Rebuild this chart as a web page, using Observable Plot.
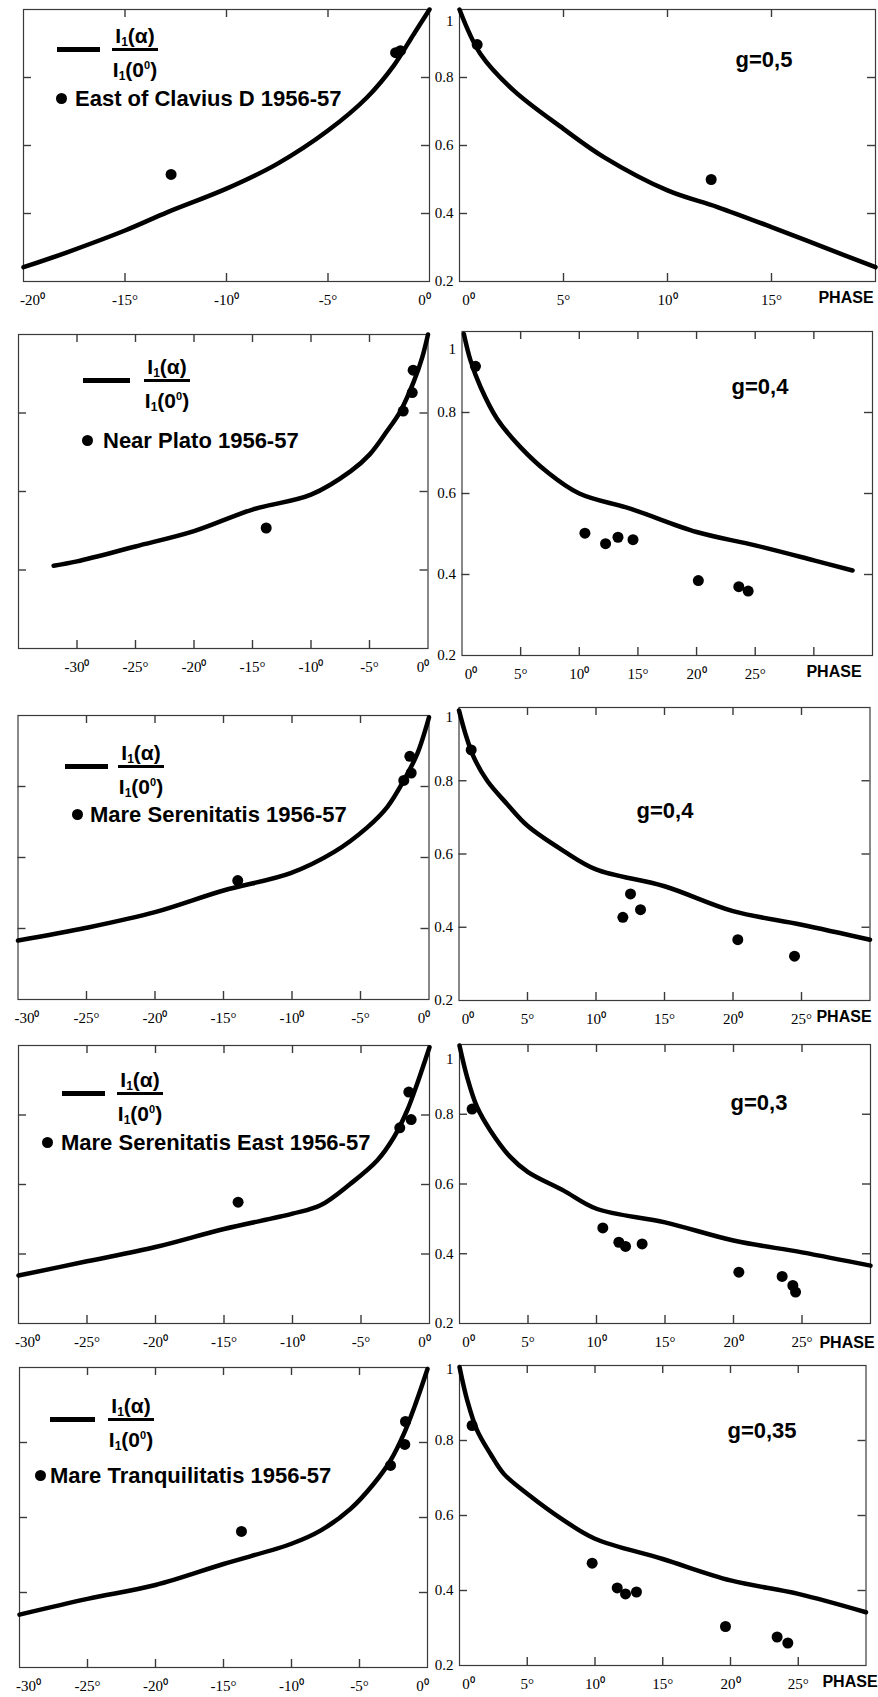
<!DOCTYPE html>
<html><head><meta charset="utf-8">
<script src="https://cdn.jsdelivr.net/npm/d3@7"></script>
<script src="https://cdn.jsdelivr.net/npm/@observablehq/plot@0.6"></script>
<style>
html,body{margin:0;padding:0;background:#fff;}
#chart{position:relative;width:878px;height:1697px;overflow:hidden;background:#fff;font-family:"Liberation Sans",Arial,sans-serif;}
.lbl{position:absolute;white-space:nowrap;font-weight:bold;color:#000;line-height:1;}
.lbl sub{font-size:12px;vertical-align:-3px;line-height:0;}
.lbl sup{font-size:11px;vertical-align:8px;line-height:0;}
</style></head><body><div id="chart"></div>
<script>
// ---------- DATA ----------
const sites = ["East of Clavius D 1956-57", "Near Plato 1956-57", "Mare Serenitatis 1956-57", "Mare Serenitatis East 1956-57", "Mare Tranquilitatis 1956-57"];
const gValues = ["g=0,5", "g=0,4", "g=0,4", "g=0,3", "g=0,35"];
const numeratorText = "I<sub>1</sub>(α)";
const denominatorText = "I<sub>1</sub>(0<sup>0</sup>)";
const phaseText = "PHASE";

const yGridValues = [0.4, 0.6, 0.8];
const yLabelValues = [0.2, 0.4, 0.6, 0.8];
const yTopLabel = [1];

const xTicksNeg20 = [-20, -15, -10, -5, 0];
const xTicksNeg35 = [-30, -25, -20, -15, -10, -5, 0];
const xTicksNeg30 = [-30, -25, -20, -15, -10, -5, 0];
const xTicksPos20 = [0, 5, 10, 15];
const xTicksPos35 = [0, 5, 10, 15, 20, 25, 30];
const xTicksPos30 = [0, 5, 10, 15, 20, 25];
const xLabelsPos20 = [0, 5, 10, 15];
const xLabelsPos = [0, 5, 10, 15, 20, 25];

// [phase (deg), I1(alpha)/I1(0)]
const claviusCurveNeg = [[-20,0.242],[-17.85,0.286],[-15,0.35],[-12.9,0.404],[-10,0.473],[-7.5,0.546],[-5,0.644],[-3.07,0.742],[-1.76,0.835],[-0.77,0.928],[0,1.0]];
const claviusDotsNeg = [[-1.67,0.873],[-1.43,0.879],[-12.73,0.515]];
const claviusCurvePos = [[0,1.0],[1.0,0.87],[2.6,0.762],[5,0.649],[6.94,0.566],[10,0.468],[12.4,0.419],[15,0.36],[17.5,0.301],[20,0.242]];
const claviusDotsPos = [[0.85,0.897],[12.1,0.5]];

const platoCurveNeg = [[-32,0.411],[-30,0.422],[-25,0.46],[-20,0.499],[-15,0.554],[-10,0.592],[-6.6,0.652],[-5,0.694],[-3.5,0.754],[-2.35,0.805],[-1.2,0.881],[-0.5,0.941],[0,1.0]];
const platoDotsNeg = [[-1.27,0.909],[-1.35,0.852],[-2.12,0.805],[-13.83,0.507]];
const platoCurvePos = [[0.16,0.994],[0.73,0.928],[1.58,0.863],[3,0.784],[5,0.714],[7.27,0.653],[10,0.6],[14.4,0.562],[20,0.505],[25,0.472],[30,0.435],[33.3,0.41]];
const platoDotsPos = [[1.15,0.914],[10.48,0.502],[12.24,0.476],[13.3,0.492],[14.58,0.486],[20.15,0.385],[23.6,0.37],[24.4,0.359]];

const serenCurveNeg = [[-30,0.366],[-25,0.402],[-20,0.446],[-15,0.507],[-10.1,0.556],[-6.95,0.615],[-4.5,0.685],[-3.05,0.742],[-1.84,0.817],[-0.86,0.892],[0,0.995]];
const serenDotsNeg = [[-1.4,0.885],[-1.3,0.838],[-1.84,0.817],[-13.96,0.535]];
const serenCurvePos = [[0,0.992],[0.47,0.928],[1.08,0.864],[2.06,0.8],[3.52,0.736],[5,0.677],[7.65,0.608],[10,0.558],[15,0.512],[20,0.444],[25,0.407],[30,0.366]];
const serenDotsPos = [[0.89,0.884],[12.52,0.491],[11.96,0.427],[13.25,0.448],[20.35,0.366],[24.49,0.321]];

const serenEastCurveNeg = [[-30,0.338],[-25,0.379],[-20,0.42],[-15,0.472],[-10,0.516],[-7.96,0.54],[-5.77,0.602],[-3.82,0.669],[-2.6,0.736],[-1.63,0.813],[-0.9,0.89],[0,0.995]];
const serenEastDotsNeg = [[-1.51,0.866],[-1.34,0.787],[-2.17,0.763],[-13.97,0.549]];
const serenEastCurvePos = [[0,0.997],[0.56,0.906],[1.29,0.82],[2.26,0.753],[3.72,0.677],[5,0.634],[7.6,0.581],[10,0.529],[15,0.49],[20,0.438],[25,0.404],[30,0.366]];
const serenEastDotsPos = [[0.92,0.815],[10.46,0.474],[11.63,0.433],[12.12,0.421],[13.33,0.428],[20.39,0.347],[23.55,0.335],[24.33,0.309],[24.53,0.29]];

const tranqCurveNeg = [[-30,0.341],[-25,0.383],[-20,0.42],[-15,0.476],[-10,0.53],[-7.87,0.565],[-5.66,0.623],[-3.95,0.69],[-2.72,0.752],[-1.74,0.823],[-0.88,0.903],[0,0.996]];
const tranqDotsNeg = [[-1.62,0.856],[-1.67,0.795],[-2.72,0.739],[-13.68,0.563]];
const tranqCurvePos = [[0,0.996],[0.57,0.907],[1.3,0.827],[2.29,0.764],[3.27,0.711],[5,0.658],[7.7,0.587],[10,0.538],[15,0.484],[20,0.427],[25,0.391],[30,0.342]];
const tranqDotsPos = [[0.93,0.84],[9.79,0.473],[11.64,0.407],[12.25,0.391],[13.06,0.396],[19.63,0.304],[23.44,0.276],[24.23,0.26]];

// ---------- LAYOUT ----------
const panels = [
  {side:"L", curve:claviusCurveNeg, dots:claviusDotsNeg, xDomain:[-20,0], ticks:xTicksNeg20, labels:xTicksNeg20, fx0:23, fx1:429, fy0:9, fy1:281},
  {side:"R", curve:claviusCurvePos, dots:claviusDotsPos, xDomain:[0,20], ticks:xTicksPos20, labels:xLabelsPos20, fx0:459, fx1:875, fy0:9, fy1:281, oneDy:12},
  {side:"L", curve:platoCurveNeg, dots:platoDotsNeg, xDomain:[-35,0], ticks:xTicksNeg35, labels:xTicksNeg35, fx0:18, fx1:427.5, fy0:334, fy1:648},
  {side:"R", curve:platoCurvePos, dots:platoDotsPos, xDomain:[0,35], ticks:xTicksPos35, labels:xLabelsPos, fx0:461.5, fx1:872, fy0:331, fy1:655, oneDy:18},
  {side:"L", curve:serenCurveNeg, dots:serenDotsNeg, xDomain:[-30,0], ticks:xTicksNeg30, labels:xTicksNeg30, fx0:17.5, fx1:428.5, fy0:715, fy1:999},
  {side:"R", curve:serenCurvePos, dots:serenDotsPos, xDomain:[0,30], ticks:xTicksPos30, labels:xLabelsPos, fx0:458.5, fx1:869.5, fy0:707, fy1:1000, oneDy:10},
  {side:"L", curve:serenEastCurveNeg, dots:serenEastDotsNeg, xDomain:[-30,0], ticks:xTicksNeg30, labels:xTicksNeg30, fx0:18, fx1:429, fy0:1045, fy1:1323},
  {side:"R", curve:serenEastCurvePos, dots:serenEastDotsPos, xDomain:[0,30], ticks:xTicksPos30, labels:xLabelsPos, fx0:459, fx1:870, fy0:1044, fy1:1323, oneDy:15},
  {side:"L", curve:tranqCurveNeg, dots:tranqDotsNeg, xDomain:[-30,0], ticks:xTicksNeg30, labels:xTicksNeg30, fx0:19, fx1:427, fy0:1367, fy1:1667},
  {side:"R", curve:tranqCurvePos, dots:tranqDotsPos, xDomain:[0,30], ticks:xTicksPos30, labels:xLabelsPos, fx0:459, fx1:865.5, fy0:1365, fy1:1665, oneDy:4}
];

const legendLayout = [
  {lineX:57, lineY:49, lineW:43, fracX:135, bulletX:61, bulletY:98, labelX:75},
  {lineX:83, lineY:380, lineW:47, fracX:167, bulletX:87, bulletY:440, labelX:103},
  {lineX:65, lineY:766, lineW:43, fracX:141, bulletX:77, bulletY:814, labelX:90},
  {lineX:62, lineY:1093, lineW:43, fracX:140, bulletX:47, bulletY:1142, labelX:61},
  {lineX:50, lineY:1419, lineW:45, fracX:131, bulletX:40, bulletY:1475, labelX:50}
];
const gLayout = [[764,60],[760,387],[665,811],[759,1103],[762,1431]];
const phaseLayout = [[846,298],[834,672],[844,1017],[847,1343],[850,1682]];

const fmtDeg = v => `${v}${Math.abs(v) % 10 === 0 ? "⁰" : "°"}`;
const chart = document.getElementById("chart");
const FRAME = "#3a3a3a";

function buildPanel(p) {
  const svgX = p.side === "L" ? 0 : 438;
  const svgW = 440;
  const top = Math.round(p.fy0) - 12;
  const bottom = Math.min(1697, Math.round(p.fy1) + 36);
  const H = bottom - top;
  const mT = p.fy0 - top, mB = bottom - p.fy1;
  const mL = p.fx0 - svgX, mR = svgX + svgW - p.fx1;
  const fw = p.fx1 - p.fx0, fh = p.fy1 - p.fy0;
  const T = 8;
  const [lo, hi] = p.xDomain;
  const innerX = p.ticks.filter(t => t > lo && t < hi);
  const midLabels = p.labels.filter(t => t !== lo && t !== hi);
  const loLabels = p.labels.filter(t => t === lo);
  const hiLabels = p.labels.filter(t => t === hi);
  const ax = {anchor:"bottom", tickSize:0, tickPadding:13, tickFormat:fmtDeg, label:null};
  const marks = [
    Plot.frame({stroke:FRAME, strokeWidth:1.2}),
    Plot.tickX(innerX, {x:d => d, insetBottom: fh - T, stroke:FRAME, strokeWidth:1.4}),
    Plot.tickX(innerX, {x:d => d, insetTop: fh - T, stroke:FRAME, strokeWidth:1.4}),
    Plot.tickY(yGridValues, {y:d => d, insetRight: fw - T, stroke:FRAME, strokeWidth:1.4}),
    Plot.tickY(yGridValues, {y:d => d, insetLeft: fw - T, stroke:FRAME, strokeWidth:1.4}),
    Plot.line(p.curve, {x:d => d[0], y:d => d[1], stroke:"#000", strokeWidth:4.5, curve:"catmull-rom"}),
    Plot.dot(p.dots, {x:d => d[0], y:d => d[1], r:5.5, fill:"#000"}),
    Plot.axisX(midLabels, ax),
    Plot.axisX(loLabels, {...ax, dx: 9}),
    Plot.axisX(hiLabels, {...ax, dx: -5})
  ];
  if (p.side === "R") {
    marks.push(Plot.axisY(yLabelValues, {anchor:"left", tickSize:0, tickPadding:6, tickFormat:d => String(d), label:null}));
    marks.push(Plot.axisY(yTopLabel, {anchor:"left", tickSize:0, tickPadding:6, tickFormat:d => String(d), dy:p.oneDy, label:null}));
  }
  const svg = Plot.plot({
    width: svgW, height: H,
    marginTop: mT, marginBottom: mB, marginLeft: mL, marginRight: mR,
    x: {domain: p.xDomain},
    y: {domain: [0.2, 1], axis: p.side === "L" ? null : undefined},
    style: {fontFamily: '"Liberation Serif","Times New Roman",serif', fontSize: "15px", background: "transparent", overflow: "visible", color: "#000"},
    marks
  });
  svg.style.position = "absolute";
  svg.style.left = svgX + "px";
  svg.style.top = top + "px";
  svg.style.maxWidth = "none";
  chart.appendChild(svg);
}
panels.forEach(buildPanel);

function addEl(html, css) {
  const d = document.createElement("div");
  d.className = "lbl";
  d.innerHTML = html;
  Object.assign(d.style, css);
  chart.appendChild(d);
  return d;
}

legendLayout.forEach((L, i) => {
  addEl("", {left: L.lineX + "px", top: (L.lineY - 2.5) + "px", width: L.lineW + "px", height: "5px", background: "#000"});
  addEl(numeratorText, {left: L.fracX + "px", top: (L.lineY - 14) + "px", transform: "translate(-50%,-50%)", fontSize: "21px"});
  addEl("", {left: (L.fracX - 23) + "px", top: (L.lineY - 1.5) + "px", width: "46px", height: "3px", background: "#000"});
  addEl(denominatorText, {left: L.fracX + "px", top: (L.lineY + 20) + "px", transform: "translate(-50%,-50%)", fontSize: "21px"});
  addEl("", {left: (L.bulletX - 5.5) + "px", top: (L.bulletY - 5.5) + "px", width: "11px", height: "11px", borderRadius: "50%", background: "#000"});
  addEl(sites[i], {left: L.labelX + "px", top: (L.bulletY + 1) + "px", transform: "translateY(-50%)", fontSize: "22px"});
  addEl(gValues[i], {left: gLayout[i][0] + "px", top: gLayout[i][1] + "px", transform: "translate(-50%,-50%)", fontSize: "22px"});
  addEl(phaseText, {left: phaseLayout[i][0] + "px", top: phaseLayout[i][1] + "px", transform: "translate(-50%,-50%)", fontSize: "16px"});
});
</script></body></html>
